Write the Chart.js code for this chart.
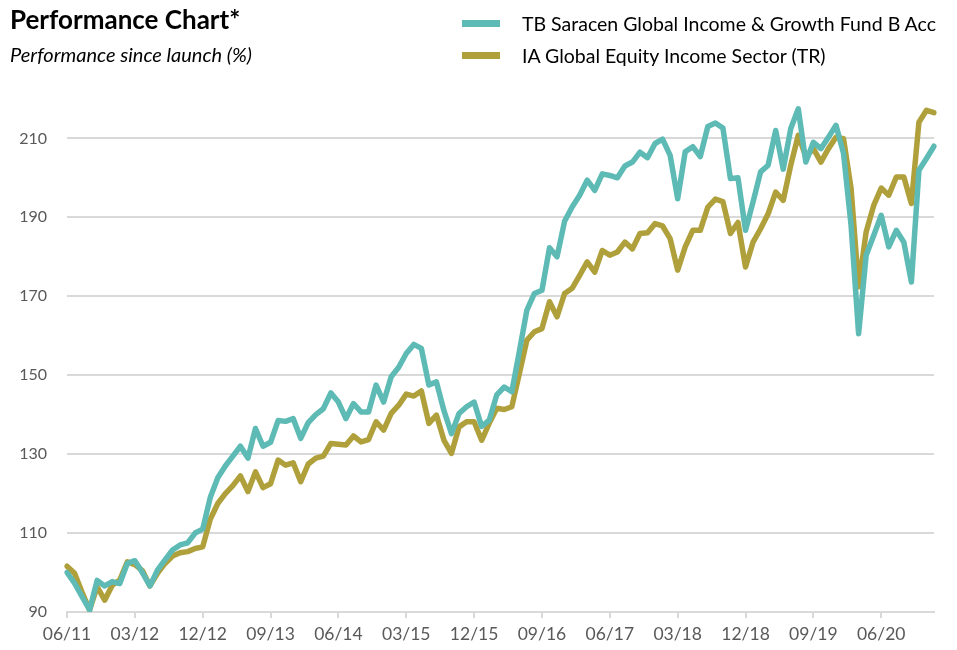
<!DOCTYPE html>
<html>
<head>
<meta charset="utf-8">
<script src="https://cdn.jsdelivr.net/npm/chart.js@4.4.1/dist/chart.umd.min.js"></script>
<style>
    body { margin: 0; background: #fff; font-family: Lato, "Open Sans", sans-serif; }
    .wrap { position: relative; width: 957px; height: 650px; }
    .chart-box { position: absolute; left: 0; top: 0; width: 957px; height: 650px; }
    .title { position: absolute; left: 10px; top: 3px; font-size: 26px; font-weight: 700; color: #000; }
    .subtitle { position: absolute; left: 10px; top: 42px; font-size: 20px; font-style: italic; color: #000; }
    .legend { position: absolute; left: 462px; top: 7px; font-size: 19.5px; color: #000; }
    .legend__item { display: flex; align-items: center; height: 32px; }
    .legend__swatch { width: 38px; height: 7px; margin-right: 22px; }
</style>
</head>
<body>
<div class="wrap">
    <div class="chart-box"><canvas id="line-chart"></canvas></div>
    <div class="title">Performance Chart*</div>
    <div class="subtitle">Performance since launch (%)</div>
    <div class="legend">
        <div class="legend__item"><span class="legend__swatch" style="background:#5dbab4"></span>TB Saracen Global Income &amp; Growth Fund B Acc</div>
        <div class="legend__item"><span class="legend__swatch" style="background:#afa03c"></span>IA Global Equity Income Sector (TR)</div>
    </div>
</div>

<script>
// months, 06/11 .. 01/21
const months = [
    "06/11", "07/11", "08/11", "09/11", "10/11", "11/11", "12/11",
    "01/12", "02/12", "03/12", "04/12", "05/12", "06/12", "07/12", "08/12", "09/12", "10/12", "11/12", "12/12",
    "01/13", "02/13", "03/13", "04/13", "05/13", "06/13", "07/13", "08/13", "09/13", "10/13", "11/13", "12/13",
    "01/14", "02/14", "03/14", "04/14", "05/14", "06/14", "07/14", "08/14", "09/14", "10/14", "11/14", "12/14",
    "01/15", "02/15", "03/15", "04/15", "05/15", "06/15", "07/15", "08/15", "09/15", "10/15", "11/15", "12/15",
    "01/16", "02/16", "03/16", "04/16", "05/16", "06/16", "07/16", "08/16", "09/16", "10/16", "11/16", "12/16",
    "01/17", "02/17", "03/17", "04/17", "05/17", "06/17", "07/17", "08/17", "09/17", "10/17", "11/17", "12/17",
    "01/18", "02/18", "03/18", "04/18", "05/18", "06/18", "07/18", "08/18", "09/18", "10/18", "11/18", "12/18",
    "01/19", "02/19", "03/19", "04/19", "05/19", "06/19", "07/19", "08/19", "09/19", "10/19", "11/19", "12/19",
    "01/20", "02/20", "03/20", "04/20", "05/20", "06/20", "07/20", "08/20", "09/20", "10/20", "11/20", "12/20",
    "01/21",
];

const fundValues = [
    100, 97.3, 93.9, 90.5, 98, 96.6, 97.7, 97.2, 102.3, 103, 100, 96.6,
    100.6, 103.2, 105.7, 107, 107.5, 110, 111, 119, 124, 127, 129.5, 132,
    129, 136.5, 132, 133, 138.5, 138.3, 139, 134, 138, 140, 141.5, 145.5,
    143.2, 139, 142.8, 140.7, 140.7, 147.5, 143.2, 149.6, 152, 155.5, 157.8, 156.8,
    147.5, 148.3, 141, 135.2, 140.3, 142, 143.2, 137, 138.6, 145, 147, 145.8,
    156, 166.5, 170.7, 171.5, 182.3, 180, 189, 192.6, 195.6, 199.4, 196.8, 201,
    200.6, 200, 203, 204, 206.5, 205.1, 208.7, 209.8, 205.7, 194.7, 206.6, 207.9,
    205.4, 213, 213.9, 212.6, 199.8, 200, 186.7, 193.9, 201.5, 203.2, 212, 202.2,
    212.5, 217.5, 204, 209, 207.4, 210.3, 213.3, 206.2, 188, 160.5, 180.4, 185.4,
    190.5, 182.5, 186.7, 183.7, 173.6, 201.9, 204.9, 208,
];

const sectorValues = [
    101.6, 99.8, 95, 90.5, 96.4, 93, 96.8, 98.1, 102.7, 102, 100.5, 96.6,
    99.8, 102.3, 104.2, 105, 105.3, 106.1, 106.5, 113.5, 117.5, 120, 122, 124.5,
    120.5, 125.5, 121.5, 122.5, 128.5, 127.2, 127.8, 123, 127.5, 129, 129.5, 132.7,
    132.5, 132.3, 134.6, 133.1, 133.7, 138.2, 136.1, 140.3, 142.4, 145.2, 144.7, 146,
    137.8, 139.9, 133.5, 130.2, 136.9, 138.2, 138.2, 133.5, 137.8, 141.6, 141.3, 142,
    150.4, 158.9, 161, 161.8, 168.6, 164.8, 170.7, 172, 175.3, 178.7, 176.1, 181.6,
    180.4, 181.2, 183.7, 182, 185.9, 186.1, 188.4, 187.8, 184.6, 176.6, 182.5, 186.7,
    186.7, 192.6, 194.6, 194, 185.9, 188.7, 177.4, 183.7, 187.1, 190.9, 196.4, 194.3,
    203.2, 210.8, 205.3, 207.4, 204, 207.4, 210.3, 209.9, 197.3, 172.4, 186.3, 193,
    197.4, 195.6, 200.2, 200.2, 193.5, 214.1, 217.1, 216.5,
];

const yTicks = [90, 110, 130, 150, 170, 190, 210];
const labelEvery = 9;

document.addEventListener("DOMContentLoaded", function () {
    const ctx = document.getElementById("line-chart").getContext("2d");
    const fontFamily = "Lato, 'Open Sans', sans-serif";

    new Chart(ctx, {
        type: "line",
        data: {
            labels: months,
            datasets: [
                {
                    label: "TB Saracen Global Income & Growth Fund B Acc",
                    data: fundValues,
                    borderColor: "#5dbab4",
                    order: 0,
                },
                {
                    label: "IA Global Equity Income Sector (TR)",
                    data: sectorValues,
                    borderColor: "#afa03c",
                    order: 1,
                },
            ],
        },
        options: {
            responsive: true,
            maintainAspectRatio: false,
            animation: false,
            layout: { padding: { top: 91, right: 23, left: 0, bottom: 0 } },
            elements: {
                line: { borderWidth: 5.5, tension: 0, borderJoinStyle: "round", borderCapStyle: "round", fill: false },
                point: { radius: 0 },
            },
            plugins: {
                legend: { display: false },
                tooltip: { enabled: false },
            },
            scales: {
                x: {
                    type: "category",
                    offset: false,
                    afterFit: (scale) => { scale.height = 38; },
                    grid: {
                        drawOnChartArea: false,
                        drawTicks: true,
                        tickLength: 6,
                        lineWidth: 2,
                        color: (c) => (c.index % labelEvery === 0 ? "#d9d9d9" : "rgba(0,0,0,0)"),
                    },
                    border: { display: true, color: "#d9d9d9", width: 2 },
                    ticks: {
                        autoSkip: false,
                        maxRotation: 0,
                        minRotation: 0,
                        padding: 6,
                        color: "#595959",
                        font: { family: fontFamily, size: 17.5 },
                        callback: function (value, index) {
                            return index % labelEvery === 0 ? months[index] : "";
                        },
                    },
                },
                y: {
                    min: 90,
                    max: 222,
                    afterFit: (scale) => { scale.width = 67; },
                    afterBuildTicks: (scale) => {
                        scale.ticks = yTicks.map((v) => ({ value: v }));
                    },
                    grid: { color: "#d9d9d9", lineWidth: 2, drawTicks: false },
                    border: { display: false },
                    ticks: {
                        padding: 20,
                        color: "#595959",
                        font: { family: fontFamily, size: 16 },
                    },
                },
            },
        },
    });
});
</script>
</body>
</html>
